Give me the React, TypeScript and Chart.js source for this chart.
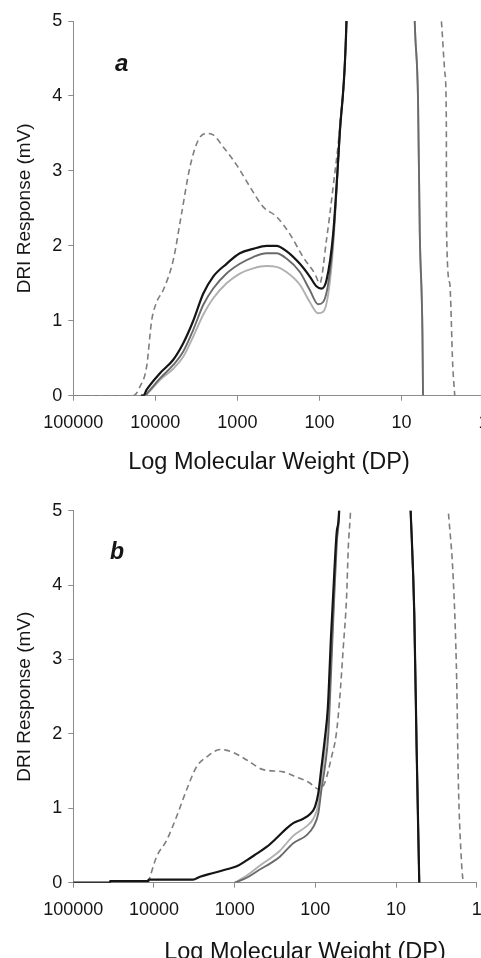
import React, { useEffect, useRef } from "react";
import { Chart, registerables } from "chart.js";

Chart.register(...registerables);

const FONT = "'Liberation Sans', Arial, Helvetica, sans-serif";

// Axis ticks
const xTickValues = [100000, 10000, 1000, 100, 10, 1];
const yTickValues = [0, 1, 2, 3, 4, 5];

const xTitle = "Log Molecular Weight (DP)";
const yTitle = "DRI Response (mV)";

// ---------- Panel a ----------
const aBlackDP = [15000, 14000, 12760, 8790, 6050, 4570, 3450, 2610, 1970, 1355, 933, 642, 442, 334, 252, 173, 131, 109, 94, 82, 68, 56.5, 46.8, 45, 30];
const aBlackResp = [0, 0, 0.08, 0.3, 0.48, 0.7, 1.0, 1.36, 1.59, 1.76, 1.9, 1.96, 2.0, 2.0, 1.93, 1.76, 1.59, 1.46, 1.43, 1.54, 2.16, 3.5, 5.0, 6, 6];

const aGrayDP = [15000, 13500, 12200, 8790, 6050, 4570, 3450, 2610, 1970, 1355, 933, 642, 442, 334, 252, 173, 131, 104, 90, 78, 68, 56.5, 46.8, 45, 7.2, 6.89, 6.28, 5.98, 5.55, 5.46];
const aDarkGrayResp = [0, 0, 0.05, 0.23, 0.41, 0.59, 0.88, 1.21, 1.43, 1.63, 1.76, 1.85, 1.9, 1.9, 1.83, 1.65, 1.41, 1.22, 1.25, 1.5, 2.08, 3.5, 5.0, 6, 6, 5.0, 3.95, 2.17, 0.84, 0];
const aLightGrayResp = [0, 0, 0.04, 0.21, 0.36, 0.52, 0.79, 1.08, 1.3, 1.5, 1.63, 1.7, 1.73, 1.72, 1.65, 1.48, 1.25, 1.1, 1.12, 1.36, 1.99, 3.5, 5.0, 6, 6, 5.0, 3.95, 2.17, 0.84, 0];

const aDashDP = [100000, 18600, 15400, 12760, 11100, 9640, 8010, 6050, 4790, 3790, 3000, 2370, 1970, 1490, 1023, 705, 485, 334, 230, 158, 114, 99, 82, 68, 56.5, 46.8, 45, 4, 3.26, 2.95, 2.84, 2.82, 2.58, 2.37, 2.24];
const aDashResp = [0, 0, 0.12, 0.39, 1.0, 1.25, 1.41, 1.81, 2.43, 3.05, 3.41, 3.5, 3.48, 3.32, 3.08, 2.79, 2.52, 2.39, 2.16, 1.85, 1.63, 1.5, 2.08, 2.79, 3.59, 5.0, 6, 6, 5.0, 4.3, 3.7, 2.2, 1.5, 0.4, 0];

// ---------- Panel b ----------
const bBlackDP = [100000, 35100, 35000, 11800, 11700, 3290, 2690, 1840, 1256, 944, 710, 533, 402, 302, 227, 188, 141, 117, 101, 92, 84, 76, 70, 64, 58, 54, 50.6, 49, 7.2, 6.59, 5.94, 5.56, 5.15];
const bBlackResp = [0, 0, 0.02, 0.02, 0.04, 0.04, 0.08, 0.13, 0.18, 0.22, 0.3, 0.39, 0.48, 0.6, 0.73, 0.8, 0.86, 0.92, 1.02, 1.2, 1.55, 1.95, 2.35, 3.3, 4.2, 4.74, 5.0, 6, 6, 5.0, 3.62, 1.83, 0];

const bGrayDP = [1000, 700, 500, 350, 275, 188, 128, 106, 92, 84, 76, 69, 64, 58, 54, 51, 49.5, 7.2, 6.59, 5.94, 5.56, 5.15];
const bDarkGrayResp = [0, 0.07, 0.17, 0.27, 0.35, 0.53, 0.64, 0.75, 0.93, 1.25, 1.56, 2.0, 2.8, 3.9, 4.6, 5.0, 6, 6, 5.0, 3.62, 1.83, 0];
const bLightGrayResp = [0, 0.1, 0.22, 0.34, 0.43, 0.63, 0.76, 0.86, 1.05, 1.4, 1.8, 2.3, 3.0, 4.0, 4.7, 5.0, 6, 6, 5.0, 3.62, 1.83, 0];

const bDashDP = [11770, 9270, 6970, 5240, 3940, 2960, 2220, 1520, 1040, 710, 443, 250, 171, 117, 101, 88, 76, 63, 55, 50, 45, 41, 39, 36.6, 34, 2.6, 2.25, 1.95, 1.77, 1.69, 1.54, 1.47];
const bDashResp = [0, 0.35, 0.57, 0.89, 1.25, 1.56, 1.69, 1.79, 1.75, 1.65, 1.52, 1.49, 1.42, 1.34, 1.28, 1.25, 1.35, 1.69, 2.0, 2.46, 3.17, 3.84, 4.52, 5.0, 6, 6, 5.0, 4.07, 2.72, 1.38, 0.26, 0];

const zip = (xs: number[], ys: number[]) => xs.map((x, i) => ({ x, y: ys[i] }));

type Pt = { x: number; y: number };
type PanelProps = {
  letter: string;
  black: Pt[];
  dark: Pt[];
  light: Pt[];
  dash: Pt[];
  width: number;
  height: number;
  padTop: number;
  padRight: number;
  xAxisHeight: number;
  xTitleX: number;
  xTitleBaseline: number;
  letterX: number;
  letterBaseline: number;
  letterSize: number;
};

const AXIS_COLOR = "#8c8c8c";
const TEXT_COLOR = "#151515";

function Panel(p: PanelProps) {
  const ref = useRef<HTMLCanvasElement | null>(null);
  useEffect(() => {
    if (!ref.current) return;
    const annot = {
      id: "annot",
      afterDraw(chart: any) {
        const { ctx, chartArea } = chart;
        ctx.save();
        ctx.fillStyle = TEXT_COLOR;
        // y title
        ctx.save();
        ctx.font = `19px ${FONT}`;
        ctx.textAlign = "center";
        ctx.textBaseline = "middle";
        ctx.translate(24.5, (chartArea.top + chartArea.bottom) / 2);
        ctx.rotate(-Math.PI / 2);
        ctx.fillText(yTitle, 0, 0);
        ctx.restore();
        // x title
        ctx.font = `23.5px ${FONT}`;
        ctx.textAlign = "center";
        ctx.textBaseline = "alphabetic";
        ctx.fillText(xTitle, p.xTitleX, p.xTitleBaseline);
        // panel letter
        ctx.font = `italic bold ${p.letterSize}px ${FONT}`;
        ctx.textAlign = "left";
        ctx.fillText(p.letter, p.letterX, p.letterBaseline);
        ctx.restore();
      },
    };
    const common = {
      pointRadius: 0,
      fill: false,
      cubicInterpolationMode: "monotone" as const,
    };
    const chart = new Chart(ref.current, {
      type: "line",
      data: {
        datasets: [
          { ...common, label: "black", data: p.black, borderColor: "#151515", borderWidth: 2.2 },
          { ...common, label: "dark", data: p.dark, borderColor: "#6a6a6a", borderWidth: 1.9 },
          { ...common, label: "light", data: p.light, borderColor: "#b0b0b0", borderWidth: 1.9 },
          { ...common, label: "dash", data: p.dash, borderColor: "#7e7e7e", borderWidth: 1.6, borderDash: [6, 4] },
        ],
      },
      options: {
        animation: false,
        responsive: false,
        layout: { padding: { top: p.padTop, right: p.padRight, left: 0, bottom: 0 } },
        plugins: { legend: { display: false }, tooltip: { enabled: false } },
        scales: {
          x: {
            type: "logarithmic",
            reverse: true,
            min: 1,
            max: 100000,
            afterBuildTicks: (s: any) => {
              s.ticks = xTickValues.map((v) => ({ value: v }));
            },
            afterFit: (s: any) => {
              s.height = p.xAxisHeight;
            },
            ticks: {
              callback: (v: any) => String(v),
              font: { family: FONT, size: 18 },
              color: TEXT_COLOR,
              padding: 11.5,
              maxRotation: 0,
              autoSkip: false,
            },
            grid: { display: true, drawOnChartArea: false, drawTicks: true, tickLength: 5, color: AXIS_COLOR },
            border: { display: true, color: AXIS_COLOR, width: 1 },
          },
          y: {
            min: 0,
            max: 5,
            afterBuildTicks: (s: any) => {
              s.ticks = yTickValues.map((v) => ({ value: v }));
            },
            afterFit: (s: any) => {
              s.width = 73.3;
            },
            ticks: {
              font: { family: FONT, size: 18 },
              color: TEXT_COLOR,
              padding: 6,
            },
            grid: { display: true, drawOnChartArea: false, drawTicks: true, tickLength: 5, color: AXIS_COLOR },
            border: { display: true, color: AXIS_COLOR, width: 1 },
          },
        },
      } as any,
      plugins: [annot],
    });
    return () => chart.destroy();
  }, []);
  return <canvas ref={ref} width={p.width} height={p.height} style={{ display: "block" }} />;
}

export default function App() {
  return (
    <div
      style={{
        position: "absolute",
        left: 0,
        top: 0,
        width: 481,
        height: 958,
        overflow: "hidden",
        background: "#fff",
      }}
    >
      <div style={{ position: "absolute", left: 0, top: 0 }}>
        <Panel
          letter="a"
          black={zip(aBlackDP, aBlackResp)}
          dark={zip(aGrayDP, aDarkGrayResp)}
          light={zip(aGrayDP, aLightGrayResp)}
          dash={zip(aDashDP, aDashResp)}
          width={500}
          height={480}
          padTop={21}
          padRight={16}
          xAxisHeight={84.3}
          xTitleX={269}
          xTitleBaseline={468.5}
          letterX={115}
          letterBaseline={70.5}
          letterSize={24}
        />
      </div>
      <div style={{ position: "absolute", left: 0, top: 480 }}>
        <Panel
          letter="b"
          black={zip(bBlackDP, bBlackResp)}
          dark={zip(bGrayDP, bDarkGrayResp)}
          light={zip(bGrayDP, bLightGrayResp)}
          dash={zip(bDashDP, bDashResp)}
          width={500}
          height={478}
          padTop={30.7}
          padRight={23.3}
          xAxisHeight={75.3}
          xTitleX={305}
          xTitleBaseline={479}
          letterX={110}
          letterBaseline={78.5}
          letterSize={23}
        />
      </div>
    </div>
  );
}
